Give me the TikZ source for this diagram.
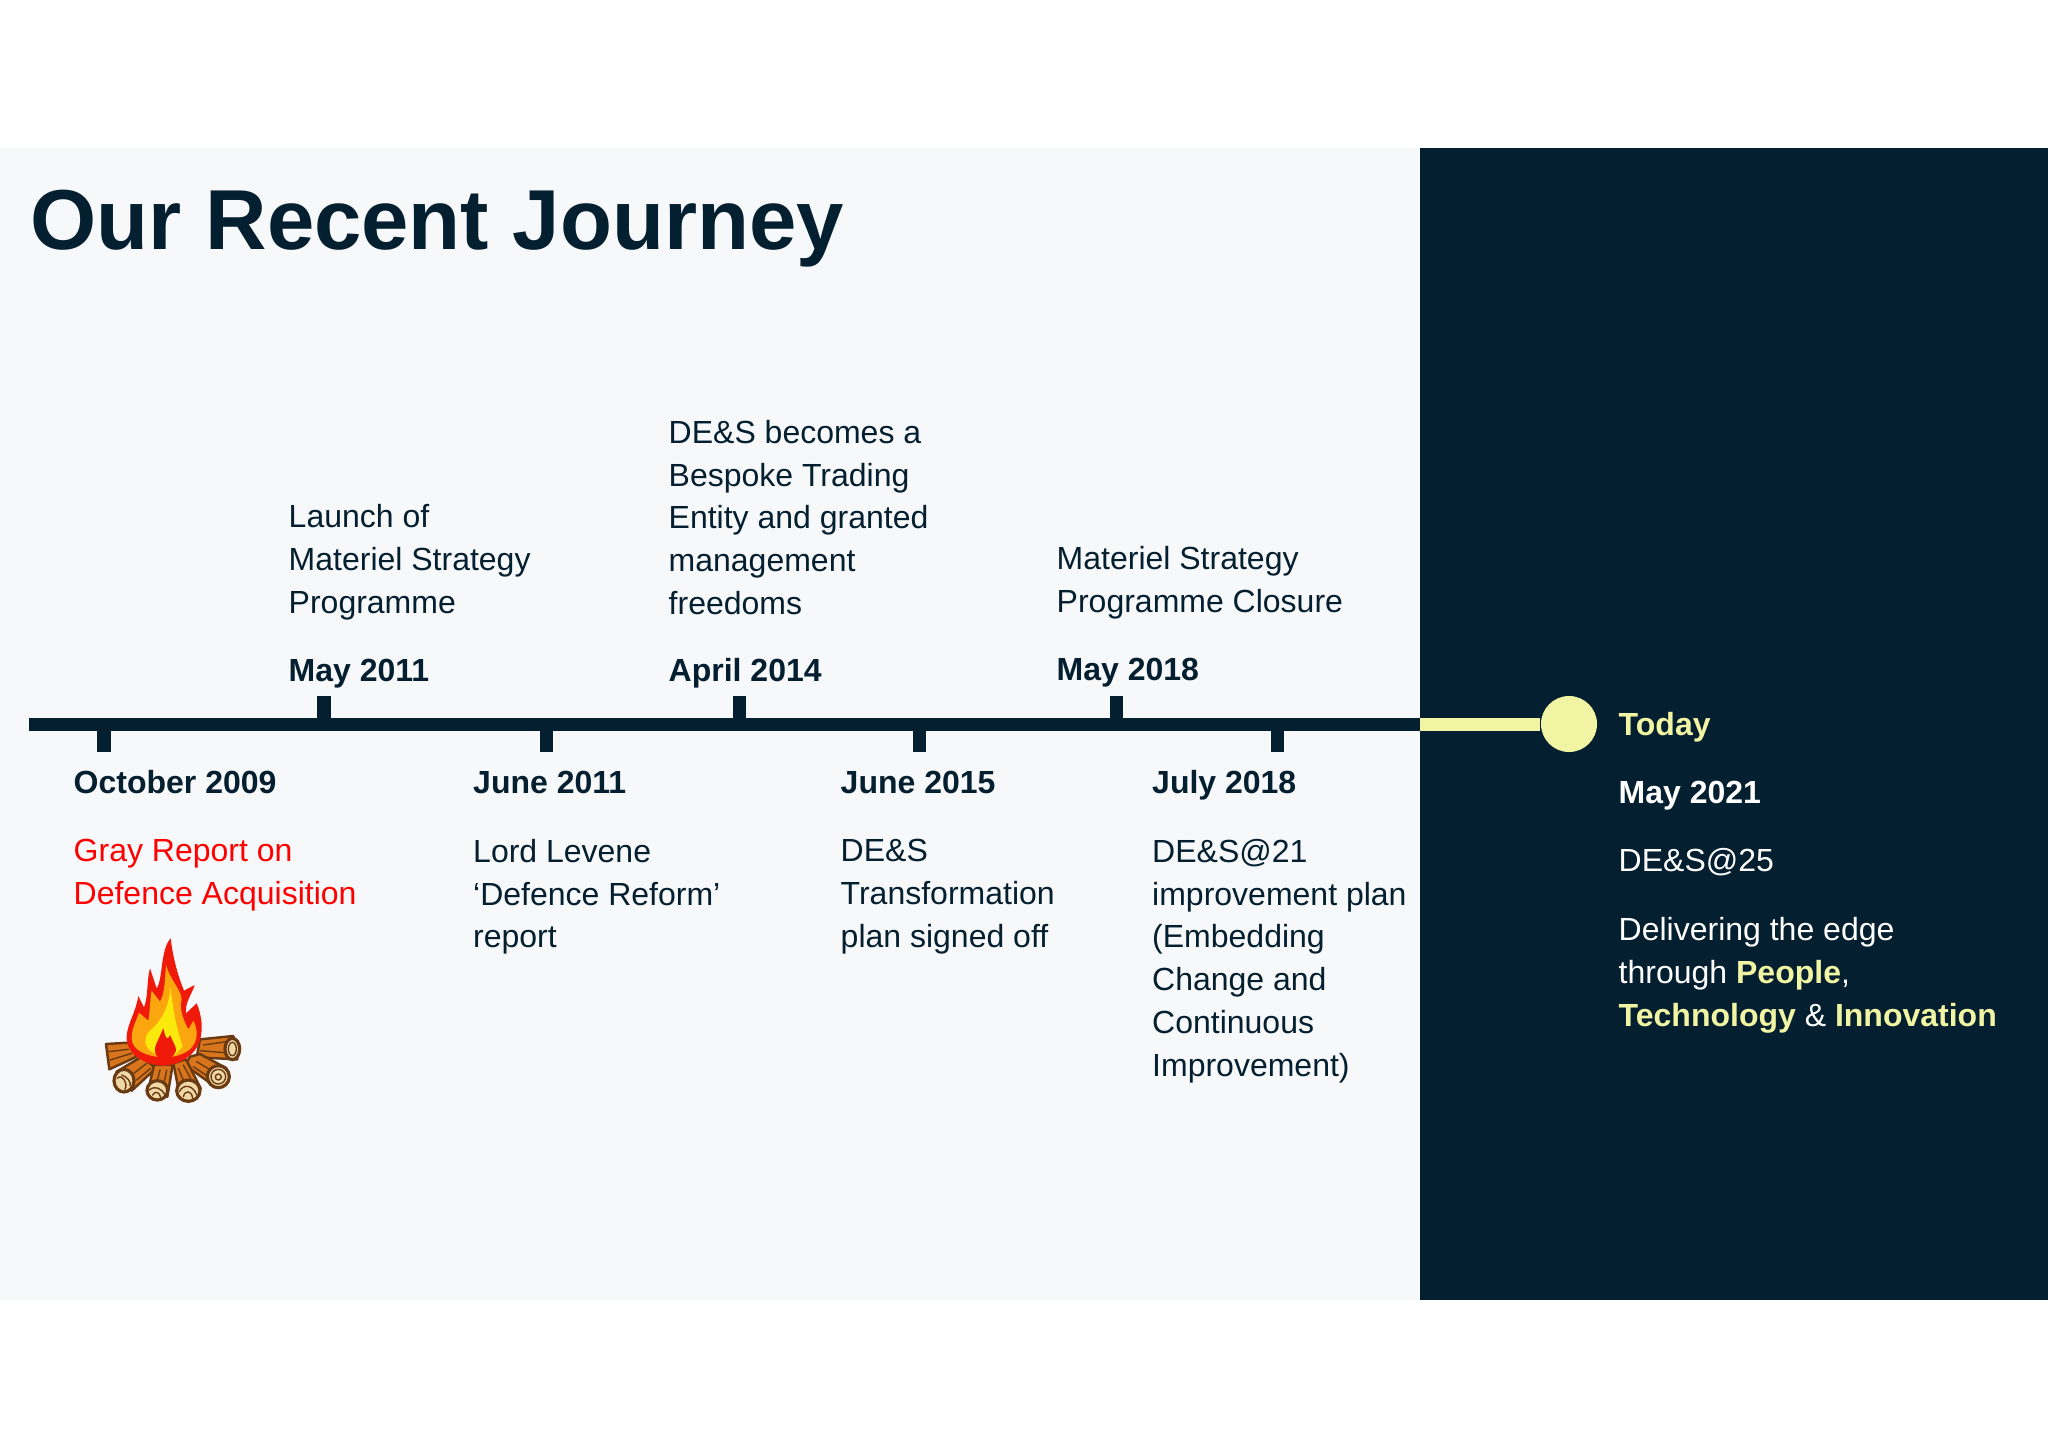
\documentclass[tikz,border=0pt]{standalone}
\usepackage{fontspec}
\setmainfont{Liberation Sans}
\usetikzlibrary{positioning}
\definecolor{navy}{HTML}{041F2F}
\definecolor{pale}{HTML}{F7F8FA}
\definecolor{lemon}{HTML}{F1F5A3}
\definecolor{logfill}{HTML}{D8741C}
\definecolor{logline}{HTML}{6A3A12}
\definecolor{logend}{HTML}{EFD8A6}
\definecolor{flamemid}{HTML}{FBA50F}
\definecolor{flamein}{HTML}{FBE90B}
\definecolor{flameout}{HTML}{F01A0A}
\tikzset{
  body/.style={anchor=north west,inner sep=0pt,align=left,text=navy,font=\fontsize{9.1}{12.15}\selectfont,execute at begin node=\strut},
  lightbody/.style={body,text=white},
  logbody/.style={fill=logfill,draw=logline,line width=0.7pt,line join=round},
  logcap/.style={fill=logend,draw=logline,line width=0.9pt},
  grain/.style={draw=logline,line width=0.4pt,line cap=round},
  tick/.style={line width=3.7pt,navy},
}
\begin{document}
\begin{tikzpicture}[x=0.01cm,y=-0.01cm]
\useasboundingbox (0,0) rectangle (2048,1448);

\fill[pale] (0,148) rectangle (1420,1300);
\fill[navy] (1420,148) rectangle (2048,1300);

\node[anchor=base west,inner sep=0pt,text=navy,font=\fontsize{24.2}{29}\selectfont\bfseries] (title) at (30,249) {Our Recent Journey};

% timeline
\coordinate (linestart) at (29,724);
\coordinate (linesplit) at (1420,724);
\node[circle,fill=lemon,minimum size=56*0.2845pt,inner sep=0pt] (todaydot) at (1569,724) {};
\draw[line width=3.7pt,navy] (linestart) -- (linesplit);
\draw[line width=3.7pt,lemon] (linesplit) -- (todaydot);

\foreach \x in {324,739,1116} {
  \draw[tick] (\x,696) -- (\x,724);
}
\foreach \x in {104,546,919,1277} {
  \draw[tick] (\x,724) -- (\x,752);
}

% above the line
\node[body] (launch) at (288,504) {Launch of\\Materiel Strategy\\Programme};
\node[body] (may11) at (288,651) {\textbf{May 2011}};
\node[body] (trading) at (668,419.5) {DE\&S becomes a\\Bespoke Trading\\Entity and granted\\management\\freedoms};
\node[body] (apr14) at (668,651) {\textbf{April 2014}};
\node[body] (closure) at (1056,545.5) {Materiel Strategy\\Programme Closure};
\node[body] (may18) at (1056,650) {\textbf{May 2018}};

% below the line
\node[body] (oct09) at (73,763) {\textbf{October 2009}};
\node[body,text=red] (gray) at (73,838.5) {Gray Report on\\Defence Acquisition};
\node[body] (jun11) at (472.5,763) {\textbf{June 2011}};
\node[body] (levene) at (472.5,838.5) {Lord Levene\\‘Defence Reform’\\report};
\node[body] (jun15) at (840,763) {\textbf{June 2015}};
\node[body] (transform) at (840,838.5) {DE\&S\\Transformation\\plan signed off};
\node[body] (jul18) at (1151.5,763) {\textbf{July 2018}};
\node[body] (improve) at (1151.5,838.5) {DE\&S@21\\improvement plan\\(Embedding\\Change and\\Continuous\\Improvement)};

% today panel
\node[body,text=lemon] (today) at (1618,705) {\textbf{Today}};
\node[lightbody] (may21) at (1618,773) {\textbf{May 2021}};
\node[lightbody] (des25) at (1618,841) {DE\&S@25};
\node[lightbody] (edge) at (1618,917) {Delivering the edge\\through \textcolor{lemon}{\textbf{People}},\\\textcolor{lemon}{\textbf{Technology}} \& \textcolor{lemon}{\textbf{Innovation}}};

% fire
\begin{scope}[shift={(0,900)},x=0.01cm/3,y=-0.01cm/3]
  \draw[logbody] (318,432) -- (385,428) -- (410,470) -- (328,508) -- cycle;
  \draw[logbody] (600,418) -- (700,408) -- (712,478) -- (590,472) -- cycle;
  \draw[logbody] (350,515) -- (425,470) -- (468,505) -- (395,572) -- cycle;
  \draw[logbody] (570,470) -- (600,462) -- (680,505) -- (650,563) -- (555,495) -- cycle;
  \draw[logbody] (462,495) -- (518,495) -- (502,590) -- (445,570) -- cycle;
  \draw[logbody] (520,490) -- (558,478) -- (602,565) -- (540,590) -- cycle;
  \draw[grain] (325,455) -- (385,448) (330,480) -- (395,460);
  \draw[grain] (610,435) -- (680,425) (600,452) -- (675,458);
  \draw[grain] (395,525) -- (440,490) (410,540) -- (452,505);
  \draw[grain] (590,485) -- (640,515) (580,500) -- (625,530);
  \draw[grain] (480,510) -- (472,540) (500,510) -- (492,550);
  \draw[grain] (535,505) -- (550,540) (550,495) -- (572,535);
  \draw[logcap] (697,447) ellipse (22 and 32);
  \draw[grain] (697,447) ellipse (12 and 20);
  \draw[logcap] (655,530) circle (33);
  \draw[grain] (655,530) circle (22);
  \draw[grain] (655,531) circle (9);
  \draw[logcap] (372,542) ellipse (30 and 34);
  \draw[grain] (352,535) .. controls (365,520) and (385,550) .. (375,568);
  \draw[grain] (365,525) .. controls (380,530) and (395,545) .. (390,558);
  \draw[logcap] (472,571) ellipse (31 and 29);
  \draw[grain] (448,570) .. controls (465,555) and (485,565) .. (495,585);
  \draw[grain] (458,585) .. controls (465,572) and (478,575) .. (482,592);
  \draw[logcap] (565,572) ellipse (35 and 32);
  \draw[grain] (538,575) .. controls (550,550) and (580,555) .. (590,585);
  \draw[grain] (550,590) .. controls (555,570) and (575,570) .. (578,595);
  \fill[flameout] (490,497) .. controls (430,495) and (378,460) .. (380,410)
    .. controls (382,370) and (405,345) .. (415,288) -- (432,322)
    .. controls (445,290) and (440,240) .. (450,205) -- (470,265)
    .. controls (490,235) and (480,150) .. (512,115)
    .. controls (520,180) and (535,230) .. (552,272) -- (584,255)
    .. controls (575,285) and (555,305) .. (558,340) -- (590,310)
    .. controls (605,345) and (610,385) .. (600,420)
    .. controls (590,460) and (545,495) .. (490,497) -- cycle;
  \fill[flamemid] (490,472) .. controls (440,470) and (395,450) .. (395,415)
    .. controls (395,385) and (408,365) .. (417,338) -- (445,362)
    .. controls (450,335) and (450,300) .. (455,272) -- (480,305)
    .. controls (495,280) and (495,230) .. (498,195)
    .. controls (510,240) and (545,270) .. (545,300)
    .. controls (535,325) and (555,370) .. (565,388) -- (580,362)
    .. controls (600,400) and (590,440) .. (555,458)
    .. controls (530,470) and (510,472) .. (490,472) -- cycle;
  \fill[flamein] (462,460) .. controls (437,445) and (430,425) .. (442,400)
    .. controls (470,375) and (505,340) .. (512,262)
    .. controls (518,320) and (525,370) .. (548,440) -- (525,465) -- cycle;
  \fill[flameout] (492,480) .. controls (465,475) and (458,450) .. (472,425) -- (490,385)
    .. controls (495,405) and (500,430) .. (510,405) -- (526,440)
    .. controls (534,460) and (515,475) .. (492,480) -- cycle;
\end{scope}
\end{tikzpicture}
\end{document}
